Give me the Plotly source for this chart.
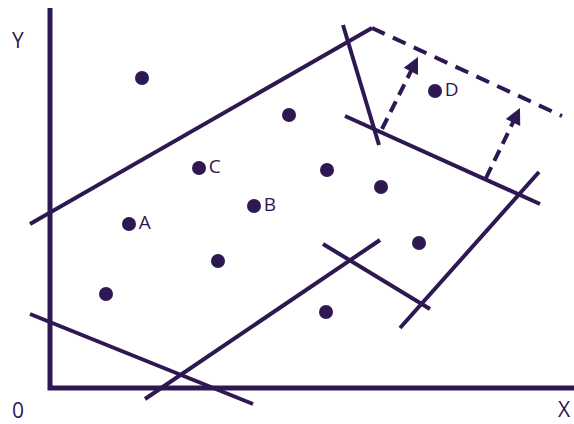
import numpy as np
import plotly.graph_objects as go

INK = "#2e1852"
FONT = "Open Sans, Noto Sans, sans-serif"

# --- données (origine = coin des axes) ---------------------------------
point_x = [92, 239, 149, 277, 331, 204, 79, 369, 168, 56, 276, 385]
point_y = [310, 273, 220, 218, 201, 182, 164, 145, 127, 94, 76, 297]
point_labels = ["", "", "C", "", "", "B", "A", "", "", "", "", "D"]

# segments pleins : (x0, y0, x1, y1)
solid_x0 = [-20, 293, 295, 350, 273, 95, -20]
solid_y0 = [164, 363, 272, 60, 144, -11, 74]
solid_x1 = [322, 329, 490, 489, 380, 330, 203]
solid_y1 = [360, 243, 184, 216, 79, 148, -16]

# ligne pointillée (marge décalée)
dash_x = [322, 512]
dash_y = [360, 272]

# flèches pointillées : départ -> pointe
arrow_x0 = [332, 436]
arrow_y0 = [259, 210]
arrow_x1 = [368, 470]
arrow_y1 = [331, 280]

axis_x = [0, 0, 524]
axis_y = [380, 0, 0]

fig = go.Figure()

# axes
fig.add_trace(go.Scatter(x=axis_x, y=axis_y, mode="lines",
                         line=dict(color=INK, width=5), hoverinfo="skip"))

# segments
for x0, y0, x1, y1 in zip(solid_x0, solid_y0, solid_x1, solid_y1):
    fig.add_trace(go.Scatter(x=[x0, x1], y=[y0, y1], mode="lines",
                             line=dict(color=INK, width=4), hoverinfo="skip"))

fig.add_trace(go.Scatter(x=dash_x, y=dash_y, mode="lines",
                         line=dict(color=INK, width=4, dash="14px,9px"),
                         hoverinfo="skip"))

# flèches : tige pointillée + tête via annotation
for x0, y0, x1, y1 in zip(arrow_x0, arrow_y0, arrow_x1, arrow_y1):
    v = np.array([x1 - x0, y1 - y0], dtype=float)
    u = v / np.linalg.norm(v)
    ex, ey = x1 - 10 * u[0], y1 - 10 * u[1]
    fig.add_trace(go.Scatter(x=[x0, ex], y=[y0, ey], mode="lines",
                             line=dict(color=INK, width=4, dash="12px,7px"),
                             hoverinfo="skip"))
    fig.add_annotation(x=x1, y=y1, ax=x1 - 14 * u[0], ay=y1 - 14 * u[1],
                       xref="x", yref="y", axref="x", ayref="y", text="",
                       showarrow=True, arrowhead=2, arrowsize=0.8,
                       arrowwidth=4, arrowcolor=INK)

# points
fig.add_trace(go.Scatter(x=point_x, y=point_y, mode="markers+text",
                         text=point_labels, textposition="middle right",
                         textfont=dict(family=FONT, size=19, color=INK),
                         marker=dict(size=14, color=INK), hoverinfo="skip"))

# libellés des axes
for txt, tx, ty, anchor in [("Y", -32, 348, "center"), ("0", -32, -22, "center"),
                            ("X", 522, -21, "right")]:
    fig.add_annotation(x=tx, y=ty, text=txt, showarrow=False, xanchor=anchor,
                       borderpad=0,
                       font=dict(family=FONT, size=21, color=INK))

fig.update_layout(
    width=574, height=424,
    margin=dict(l=0, r=0, t=0, b=0),
    paper_bgcolor="white", plot_bgcolor="white",
    showlegend=False,
    xaxis=dict(range=[-50, 524], visible=False),
    yaxis=dict(range=[-36, 388], visible=False),
)

fig.write_html("out.html",
               config={"displayModeBar": False},
               post_script="document.body.style.margin='0';"
                           "document.body.style.overflow='hidden';")
